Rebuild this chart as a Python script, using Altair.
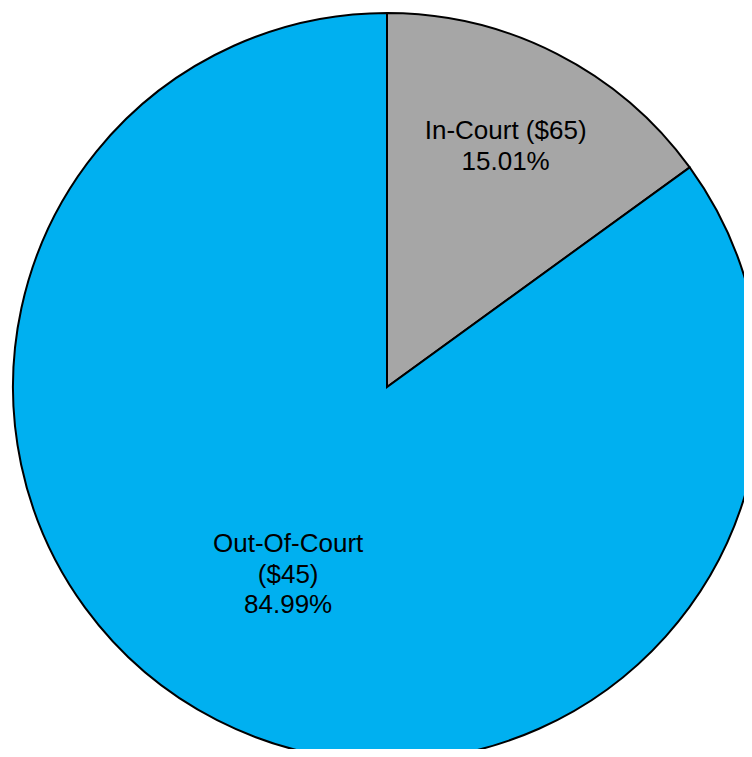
import altair as alt
import pandas as pd

categories = ["In-Court", "Out-Of-Court"]
amounts = ["$65", "$45"]
shares = [15.01, 84.99]
label_lines = [["In-Court ($65)", "15.01%"], ["Out-Of-Court", "($45)", "84.99%"]]
colors = ["#A6A6A6", "#00B0F0"]

df = pd.DataFrame({
    "category": categories,
    "amount": amounts,
    "share": shares,
    "order": [0, 1],
    "label": ["\n".join(l) for l in label_lines],
})

cx, cy, R = 379, 379, 374
LH = 30.5

arc = alt.Chart(df).mark_arc(stroke="black", strokeWidth=2).encode(
    theta=alt.Theta("share:Q", stack=True, scale=alt.Scale(domain=[0, 100])),
    color=alt.Color("category:N", scale=alt.Scale(domain=categories, range=colors), legend=None),
    order=alt.Order("order:Q"),
    x=alt.value(cx), y=alt.value(cy), radius=alt.value(R),
)

def text_layer(i, r, dx):
    cat = categories[i]
    n = len(label_lines[i])
    return alt.Chart(df).transform_window(
        cum="sum(share)", sort=[{"field": "order"}]
    ).transform_calculate(
        mid="datum.cum - datum.share / 2"
    ).transform_filter(
        alt.datum.category == cat
    ).mark_text(
        font="Liberation Sans", fontSize=26, lineHeight=LH, lineBreak="\n",
        color="black", align="center", baseline="middle",
        dx=dx, dy=-(n - 1) * LH / 2
    ).encode(
        theta=alt.Theta("mid:Q", scale=alt.Scale(domain=[0, 100])),
        radius=alt.value(r),
        x=alt.value(cx), y=alt.value(cy),
        text="label:N",
    )

chart = alt.layer(arc, text_layer(0, 270, -4), text_layer(1, 211, -3)).properties(
    width=736, height=741, padding=0, autosize=alt.AutoSizeParams(type="none")
).configure_view(strokeWidth=0, stroke="transparent")

chart.save("out.html", embed_options={"renderer": "svg", "actions": False})
